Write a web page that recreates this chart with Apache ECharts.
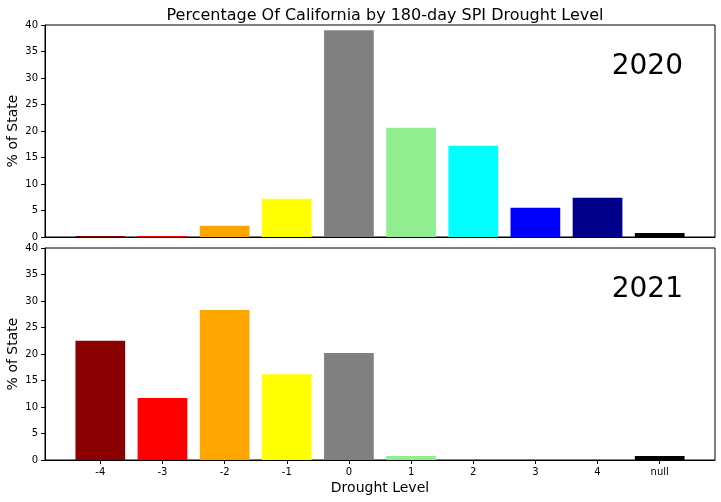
<!DOCTYPE html>
<html>
<head>
<meta charset="utf-8">
<script src="https://cdn.jsdelivr.net/npm/echarts@6/dist/echarts.min.js"></script>
<style>html,body{margin:0;padding:0;background:#fff}#c{width:721px;height:502px}</style>
</head>
<body>
<div id="c"></div>
<script>
var categories = ['-4', '-3', '-2', '-1', '0', '1', '2', '3', '4', 'null'];
var colors = ['#8B0000', '#FF0000', '#FFA500', '#FFFF00', '#808080', '#90EE90', '#00FFFF', '#0000FF', '#00008B', '#000000'];
var values2020 = [0.2, 0.2, 2.1, 7.2, 39.0, 20.6, 17.2, 5.5, 7.4, 0.75];
var values2021 = [22.5, 11.7, 28.3, 16.2, 20.2, 0.75, 0, 0, 0, 0.75];
var years = ['2020', '2021'];
var yName = '% of State';

var FONT = 'DejaVu Sans';
var plotLeft = 45, plotWidth = 670, plotH = 212;
var tops = [25, 248];
var xMin = -0.89, xMax = 9.89;
var barW = 0.8 * plotWidth / (xMax - xMin);
var idx = categories.map(function (c, i) { return i; });

function mkData(vals) {
  return vals.map(function (v, i) {
    return { value: [i, v], itemStyle: { color: colors[i] } };
  });
}

var chart = echarts.init(document.getElementById('c'));
var grids = tops.map(function (t) {
  return { left: plotLeft, top: t, width: plotWidth, height: plotH, containLabel: false, outerBoundsMode: 'none',
    show: true, borderColor: '#000', borderWidth: 1, backgroundColor: 'transparent' };
});
var xAxes = [0, 1].map(function (g) {
  return {
    type: 'value', gridIndex: g, min: xMin, max: xMax,
    splitLine: { show: false },
    axisLine: { show: true, onZero: false, lineStyle: { color: '#000', width: 1 } },
    axisTick: { show: g === 1, customValues: idx, length: 4, lineStyle: { color: '#000' } },
    axisLabel: { show: g === 1, customValues: idx, color: '#000', fontFamily: FONT, fontSize: 10, margin: 7,
      formatter: function (v) { return categories[Math.round(v)]; } },
    name: g === 1 ? 'Drought Level' : '', nameLocation: 'middle', nameGap: 21,
    nameTextStyle: { color: '#000', fontFamily: FONT, fontSize: 14 }
  };
});
var yAxes = [0, 1].map(function (g) {
  return {
    type: 'value', gridIndex: g, min: 0, max: 40, interval: 5,
    splitLine: { show: false },
    axisLine: { show: true, onZero: false, lineStyle: { color: '#000', width: 1 } },
    axisTick: { show: true, length: 4, lineStyle: { color: '#000' } },
    axisLabel: { color: '#000', fontFamily: FONT, fontSize: 10, margin: 7 }
  };
});

var graphics = years.map(function (y, i) {
  return {
    type: 'text', x: 683, y: tops[i] + 42,
    style: { text: y, fill: '#000', font: '28px "DejaVu Sans"', textAlign: 'right', textVerticalAlign: 'middle' }
  };
}).concat(tops.map(function (t) {
  return {
    type: 'text', x: 13, y: t + plotH / 2, rotation: Math.PI / 2,
    style: { text: yName, fill: '#000', font: '14px "DejaVu Sans"', textAlign: 'center', textVerticalAlign: 'middle' }
  };
}));

chart.setOption({
  animation: false,
  backgroundColor: '#fff',
  title: {
    text: 'Percentage Of California by 180-day SPI Drought Level',
    left: 380, top: 3, textAlign: 'center',
    textStyle: { color: '#000', fontFamily: FONT, fontSize: 16, fontWeight: 'normal' }
  },
  grid: grids,
  xAxis: xAxes,
  yAxis: yAxes,
  series: [
    { type: 'bar', xAxisIndex: 0, yAxisIndex: 0, barWidth: barW, data: mkData(values2020) },
    { type: 'bar', xAxisIndex: 1, yAxisIndex: 1, barWidth: barW, data: mkData(values2021) }
  ],
  graphic: graphics
});
</script>
</body>
</html>
